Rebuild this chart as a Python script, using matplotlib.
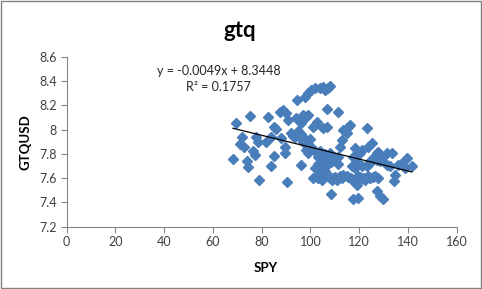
import matplotlib
matplotlib.use('Agg')
import matplotlib.pyplot as plt
from matplotlib.ticker import FuncFormatter, MultipleLocator
from matplotlib.patches import Rectangle
import numpy as np

# SPY vs GTQUSD
spy = [69.3, 68.2, 75.3, 71.9, 71.2, 72.6, 73.9, 74.3, 76.4, 77.1,
       77.8, 78.5, 78.9, 82.6, 81.9, 84.0, 84.9, 86.0, 84.9, 84.0,
       88.1, 87.4, 88.8, 89.9, 90.8, 89.5, 89.5, 90.4, 94.3, 93.6,
       95.0, 95.6, 94.0, 96.3, 97.0, 98.1, 99.1, 97.7, 99.1, 100.4,
       101.8, 96.3, 97.0, 98.1, 99.1, 101.1, 101.8, 102.5, 100.4, 101.8,
       103.2, 101.1, 103.2, 104.6, 101.8, 104.0, 104.0, 105.3, 105.9, 107.3,
       108.0, 105.3, 106.6, 106.6, 105.9, 107.3, 108.0, 109.4, 105.9, 107.3,
       108.7, 109.4, 110.7, 108.4, 111.4, 111.4, 112.1, 112.8, 113.5, 115.5,
       116.2, 114.9, 113.5, 114.9, 117.0, 117.6, 118.3, 117.0, 118.3, 117.6,
       119.7, 119.0, 120.3, 121.0, 121.0, 122.4, 123.1, 123.1, 124.6, 123.8,
       125.2, 124.6, 126.6, 125.9, 127.3, 127.9, 127.3, 128.6, 127.3, 128.6,
       129.9, 127.9, 129.9, 131.3, 133.4, 131.3, 132.7, 134.1, 134.7, 136.1,
       137.5, 138.9, 139.6, 141.6, 102.5, 106.0, 107.9, 110.0, 112.0, 113.0,
       115.5, 116.5, 119.5, 120.5, 122.0, 123.5, 125.8, 103.0, 104.5, 106.5,
       108.3, 110.0, 111.5, 119.0, 121.0, 124.5, 96.0, 97.5, 99.0, 100.0,
       104.0, 106.0, 95.5, 93.0, 92.0]
gtqusd = [8.05, 7.756, 8.112, 7.937, 7.882, 7.86, 7.737, 7.69, 7.82, 7.79,
          7.94, 7.9, 7.586, 8.107, 7.901, 7.94, 8.02, 8.003, 7.784, 7.696,
          7.929, 8.148, 8.162, 8.134, 8.08, 7.86, 7.805, 7.564, 8.244, 7.942,
          7.984, 7.942, 8.093, 8.052, 8.12, 8.107, 8.12, 8.271, 8.304, 8.326,
          8.34, 7.71, 7.9, 7.83, 7.805, 8.022, 8.036, 8.063, 7.86, 7.82,
          7.778, 7.6, 7.6, 7.586, 7.682, 7.668, 8.34, 8.348, 8.326, 8.34,
          8.359, 8.011, 8.025, 8.167, 7.75, 7.723, 7.805, 7.778, 7.655, 7.627,
          7.586, 7.6, 7.586, 7.471, 8.148, 7.778, 7.86, 7.915, 7.997, 8.025,
          8.038, 7.97, 7.627, 7.614, 7.586, 7.778, 7.847, 7.696, 7.682, 7.427,
          7.436, 7.545, 7.805, 7.833, 7.6, 7.586, 8.011, 7.696, 7.723, 7.86,
          7.888, 7.6, 7.614, 7.778, 7.805, 7.819, 7.75, 7.737, 7.49, 7.449,
          7.427, 7.6, 7.778, 7.805, 7.805, 7.71, 7.696, 7.573, 7.627, 7.71,
          7.723, 7.682, 7.764, 7.696, 7.61, 7.62, 7.6, 7.61, 7.62, 7.6,
          7.61, 7.6, 7.62, 7.61, 7.6, 7.62, 7.61, 7.72, 7.74, 7.7,
          7.73, 7.75, 7.72, 7.73, 7.7, 7.74, 7.96, 7.93, 7.88, 7.92,
          7.82, 7.8, 7.98, 7.95, 7.97]

slope = -0.0049
intercept = 8.3448
r2 = 0.1757

plt.rcParams['font.family'] = ['Lato', 'DejaVu Sans']

fig = plt.figure(figsize=(4.82, 2.89), dpi=100)
ax = fig.add_axes([0.1384, 0.2156, 0.8091, 0.5882])

ax.plot(spy, gtqusd, linestyle='none', marker='D', markersize=4.9,
        color='#4A7EBB', markeredgecolor='#4A7EBB')

xs = np.array([min(spy), max(spy)])
ax.plot(xs, slope * xs + intercept, color='black', lw=0.9)

ax.set_xlim(0, 160)
ax.set_ylim(7.2, 8.6)
ax.xaxis.set_major_locator(MultipleLocator(20))
ax.yaxis.set_major_locator(MultipleLocator(0.2))
ax.yaxis.set_major_formatter(FuncFormatter(lambda v, p: '%g' % round(v, 1)))

for side in ['top', 'right']:
    ax.spines[side].set_visible(False)
for side in ['left', 'bottom']:
    ax.spines[side].set_color('#868686')
    ax.spines[side].set_linewidth(0.8)
ax.tick_params(direction='out', length=4, width=0.8, color='#868686',
               labelsize=9, labelcolor='#404040', pad=3)

ax.set_xlabel('SPY', fontsize=9.5, fontweight='bold')
ax.set_ylabel('GTQUSD', fontsize=9.5, fontweight='bold')
ax.xaxis.set_label_coords(0.51, -0.205)
ax.yaxis.set_label_coords(-0.09, 0.5)
fig.text(0.4985, 0.896, 'gtq', fontsize=16, fontweight='bold',
         ha='center', va='center')

ax.text(0.389, 0.917, 'y = -0.0049x + 8.3448', transform=ax.transAxes,
        fontsize=9, ha='center', va='center', color='#262626')
ax.text(0.389, 0.82, 'R² = %.4f' % r2, transform=ax.transAxes,
        fontsize=9, ha='center', va='center', color='#262626')

fig.patches.append(Rectangle((0.002, 0.003), 0.996, 0.994, transform=fig.transFigure,
                             fill=False, edgecolor='#808080', lw=1))

fig.savefig('out.png', dpi=100)
